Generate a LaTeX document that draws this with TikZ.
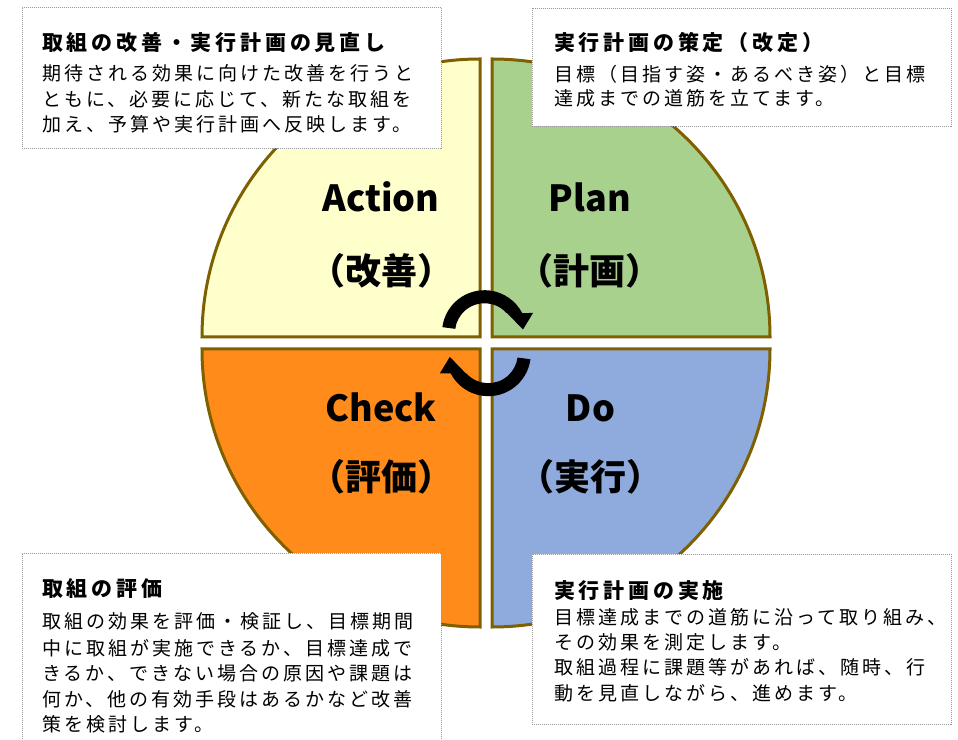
\documentclass[tikz,border=0pt]{standalone}
\usepackage{fontspec}
\setmainfont{Noto Sans CJK JP}
\newfontfamily\bodyfont[LetterSpace=15.8]{Noto Sans CJK JP}
\newfontfamily\headfont[LetterSpace=18]{Noto Sans CJK JP}
\definecolor{actfill}{HTML}{FFFFCC}
\definecolor{planfill}{HTML}{A9D18E}
\definecolor{checkfill}{HTML}{FF8C1A}
\definecolor{dofill}{HTML}{8FAADC}
\definecolor{edgebrown}{HTML}{7F6000}
\tikzset{
  cyclearrow/.pic={
    \fill[black] (172.5:42.5) arc[start angle=172.5,end angle=27.6,radius=42.5]
      -- (48.5,19.7) -- (38.5,3.2) -- (22.5,19.7) -- (41.9:29.5)
      arc[start angle=41.9,end angle=172.5,radius=29.5] -- cycle;
  }
}
\begin{document}
\begin{tikzpicture}[x=1pt,y=1pt,
  quad/.style={draw=edgebrown, line width=3pt, line join=miter},
  infobox/.style={draw=gray!80, fill=white, line width=0.8pt, dash pattern=on 1pt off 1pt,
    anchor=north west, inner sep=0pt, minimum width=419pt},
  boxtitle/.style={anchor=west, inner sep=0pt, text height=18.5pt, text depth=2.5pt,
    font=\headfont\bfseries\fontsize{21}{24}\selectfont},
  boxline/.style={anchor=west, inner sep=0pt, text height=16.7pt, text depth=2.3pt,
    font=\bodyfont\fontsize{19}{22}\selectfont},
  biglabel/.style={inner sep=0pt, text height=31.7pt, text depth=4.3pt,
    font=\bfseries\fontsize{36}{40}\selectfont},
]
\useasboundingbox (0,0) rectangle (958,739);
\clip (0,0) rectangle (958,739);

% quadrants
\path[quad, fill=actfill] (480,402) -- (202,402) arc[start angle=180,end angle=90,radius=278] -- cycle;
\path[quad, fill=planfill] (492,402) -- (492,680) arc[start angle=90,end angle=0,radius=278] -- cycle;
\path[quad, fill=dofill] (492,390) -- (770,390) arc[start angle=0,end angle=-90,radius=278] -- cycle;
\path[quad, fill=checkfill] (480,390) -- (480,112) arc[start angle=270,end angle=180,radius=278] -- cycle;

% cycle arrows
\pic at (484.5,406.3) {cyclearrow};
\pic[rotate=180] at (488.3,385.3) {cyclearrow};

% big labels
\node[biglabel] (act) at (381,541.5) {Action};
\node[biglabel] (actj) at (381.5,468) {（改善）};
\node[biglabel] (pln) at (590,541) {Plan};
\node[biglabel] (plnj) at (589,468) {（計画）};
\node[biglabel] (chk) at (381,331) {Check};
\node[biglabel] (chkj) at (381.5,262) {（評価）};
\node[biglabel] (do) at (590.5,331) {Do};
\node[biglabel] (doj) at (590,262) {（実行）};

% info boxes
\node[infobox, minimum height=141pt] (boxA) at (22,732) {};
\node[infobox, minimum height=118pt] (boxP) at (532,731) {};
\node[infobox, minimum height=195pt] (boxC) at (22,186) {};
\node[infobox, minimum height=170pt] (boxD) at (532,185) {};

% box A text
\node[boxtitle] (a0) at (42,696.3) {取組の改善・実行計画の見直し};
\node[boxline] (a1) at (42,665.7) {期待される効果に向けた改善を行うと};
\node[boxline] (a2) at (42,640) {ともに、必要に応じて、新たな取組を};
\node[boxline] (a3) at (42,614.5) {加え、予算や実行計画へ反映します。};

% box P text
\node[boxtitle] (p0) at (554,696.3) {実行計画の策定（改定）};
\node[boxline] (p1) at (554,665) {目標（目指す姿・あるべき姿）と目標};
\node[boxline] (p2) at (554,640.5) {達成までの道筋を立てます。};

% box C text
\node[boxtitle] (c0) at (42,150.7) {取組の評価};
\node[boxline] (c1) at (42,117.3) {取組の効果を評価・検証し、目標期間};
\node[boxline] (c2) at (42,91) {中に取組が実施できるか、目標達成で};
\node[boxline] (c3) at (42,65.5) {きるか、できない場合の原因や課題は};
\node[boxline] (c4) at (42,40) {何か、他の有効手段はあるかなど改善};
\node[boxline] (c5) at (42,14.5) {策を検討します。};

% box D text
\node[boxtitle] (d0) at (554,148.2) {実行計画の実施};
\node[boxline] (d1) at (554,121.5) {目標達成までの道筋に沿って取り組み、};
\node[boxline] (d2) at (554,96.5) {その効果を測定します。};
\node[boxline] (d3) at (554,71.5) {取組過程に課題等があれば、随時、行};
\node[boxline] (d4) at (554,46) {動を見直しながら、進めます。};
\end{tikzpicture}
\end{document}
